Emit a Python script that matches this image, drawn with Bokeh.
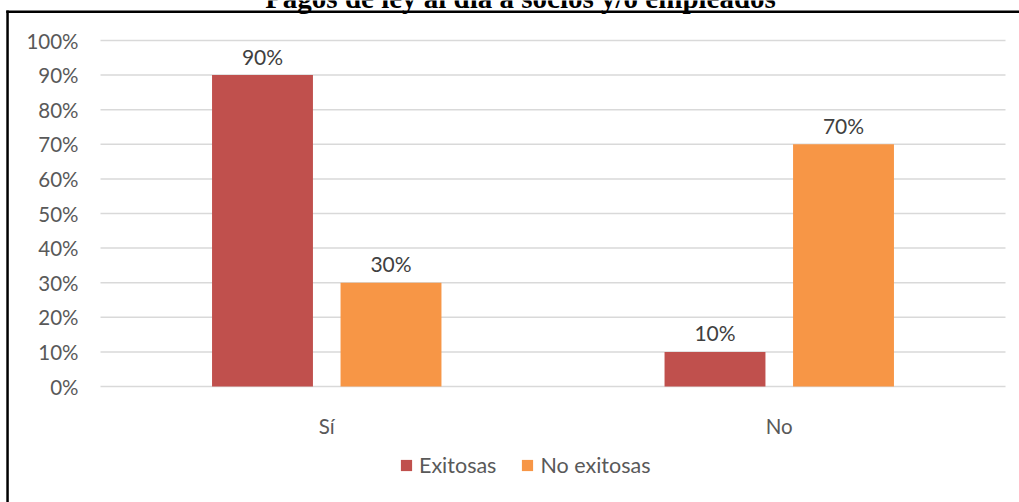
from bokeh.plotting import figure
from bokeh.models import (ColumnDataSource, Range1d, Legend, LegendItem, Label, BoxAnnotation)
from bokeh.transform import dodge
from bokeh.core.properties import value
from bokeh.embed import file_html
from bokeh.resources import INLINE

# Data
categories = ["Sí", "No"]
exitosas = [0.90, 0.10]
no_exitosas = [0.30, 0.70]
y_ticks = [0.0, 0.1, 0.2, 0.3, 0.4, 0.5, 0.6, 0.7, 0.8, 0.9, 1.0]
title_text = "Pagos de ley al día a socios y/o empleados"
series_names = ["Exitosas", "No exitosas"]

RED = "#c0504d"
ORANGE = "#f79646"
GREY_TEXT = "#595959"
FONT = "Lato"

W, H = 1019, 502
PLOT_L, PLOT_R = 100, 1005      # horizontal extent of the category area (px)
PLOT_T, PLOT_B = 40, 386        # pixel rows of 100% and 0%

n = len(categories)
xpos = [i + 0.5 for i in range(n)]
px_per_cat = (PLOT_R - PLOT_L) / n
px_per_unit = PLOT_B - PLOT_T

src = ColumnDataSource(dict(
    x=xpos,
    base=[0.0] * n,
    cat=categories,
    exi=exitosas,
    noexi=no_exitosas,
    exi_lbl=[f"{v:.0%}" for v in exitosas],
    noexi_lbl=[f"{v:.0%}" for v in no_exitosas],
))
ticks_src = ColumnDataSource(dict(
    y=y_ticks,
    lbl=[f"{t:.0%}" for t in y_ticks],
    x0=[0] * len(y_ticks),
    x1=[n] * len(y_ticks),
))

# The frame fills the whole canvas; ranges are chosen so that the category
# area and the 0-100% scale land where the chart body sits.
x_range = Range1d(-PLOT_L / px_per_cat, n + (W - PLOT_R) / px_per_cat)
y_range = Range1d(-(H - PLOT_B) / px_per_unit, 1 + PLOT_T / px_per_unit)

p = figure(width=W, height=H, x_range=x_range, y_range=y_range,
           output_backend="svg", toolbar_location=None,
           x_axis_location=None, y_axis_location=None,
           min_border=0, min_border_left=0, min_border_right=0,
           min_border_top=0, min_border_bottom=0)
p.outline_line_color = None
p.background_fill_color = "white"
p.border_fill_color = "white"
p.grid.visible = False

# horizontal gridlines across the category area
p.segment(x0="x0", x1="x1", y0="y", y1="y", source=ticks_src,
          line_color="#d9d9d9", line_width=1.5, level="underlay")

# y tick labels
p.text(x="x0", y="y", text="lbl", source=ticks_src, x_offset=-22,
       text_align="right", text_baseline="middle",
       text_font=value(FONT), text_font_size="20.5px", text_color=GREY_TEXT)

# category labels
p.text(x="x", y="base", text="cat", source=src, y_offset=39,
       text_align="center", text_baseline="alphabetic",
       text_font=value(FONT), text_font_size="20.5px", text_color=GREY_TEXT)

r1 = p.vbar(x=dodge("x", -0.142), top="exi", width=0.223, source=src,
            fill_color=RED, line_color=None)
r2 = p.vbar(x=dodge("x", 0.142), top="noexi", width=0.223, source=src,
            fill_color=ORANGE, line_color=None)

# value labels above bars
for off, col, lbl in [(-0.142, "exi", "exi_lbl"), (0.142, "noexi", "noexi_lbl")]:
    p.text(x=dodge("x", off), y=col, text=lbl, source=src,
           text_align="center", text_baseline="alphabetic", y_offset=-19,
           text_font=value(FONT), text_font_size="21px", text_color="#404040")

# legend under the chart body
legend = Legend(items=[LegendItem(label=series_names[0], renderers=[r1]),
                       LegendItem(label=series_names[1], renderers=[r2])],
                orientation="horizontal", location=(399, 24),
                glyph_width=14, glyph_height=14, label_standoff=6, spacing=24,
                padding=0, margin=0, border_line_color=None, background_fill_alpha=0,
                label_text_font=FONT, label_text_font_size="21.5px",
                label_text_color=GREY_TEXT, label_height=14)
p.add_layout(legend, "center")

# chart title (its top runs off the page edge)
p.add_layout(Label(x=520, y=-2.5, x_units="canvas", y_units="canvas", text=title_text,
                   text_align="center", text_baseline="alphabetic",
                   text_font="Liberation Serif", text_font_style="bold",
                   text_font_size="29px", text_color="black"))

# outer frame lines: left edge and top edge
for left, right, top, bottom in [(5.8, 8.3, 10, H + 10), (5.8, W, 10, 12.5)]:
    p.add_layout(BoxAnnotation(left=left, right=right, top=top, bottom=bottom,
                               left_units="canvas", right_units="canvas",
                               top_units="canvas", bottom_units="canvas",
                               fill_color="black", fill_alpha=1,
                               line_color=None, level="overlay"))

open("out.html", "w").write(file_html(p, INLINE))
